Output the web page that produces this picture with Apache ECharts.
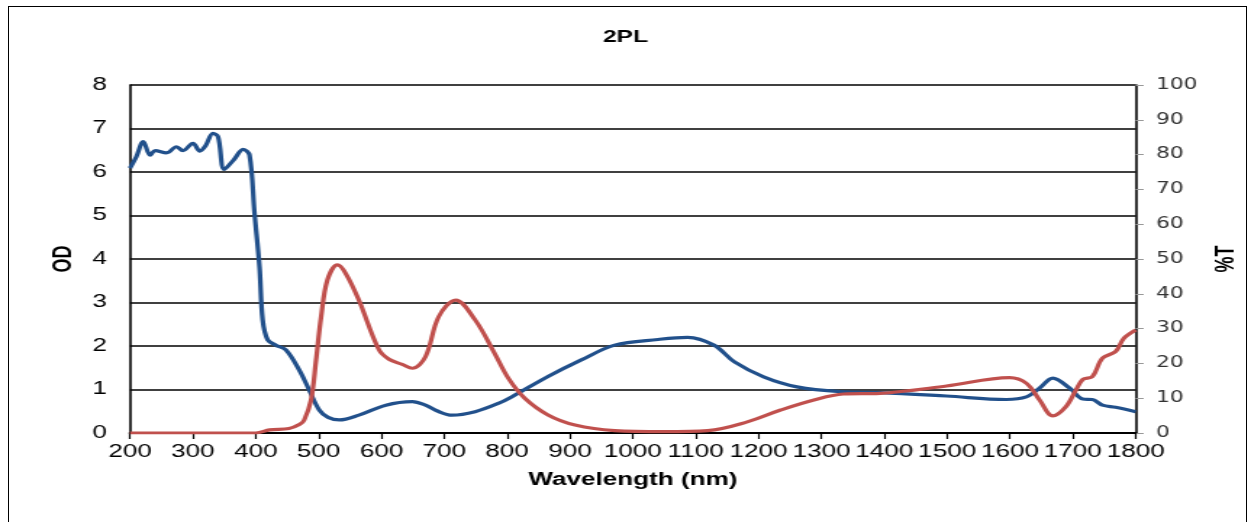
<!DOCTYPE html>
<html>
<head>
<meta charset="utf-8">
<script src="https://cdn.jsdelivr.net/npm/echarts@6/dist/echarts.min.js"></script>
<style>
html,body{margin:0;padding:0;background:#fff;overflow:hidden;}
#frame{position:absolute;left:8px;top:6px;width:1239px;height:540px;border:1.5px solid #000;box-sizing:border-box;}
#chart{position:absolute;left:0;top:0;width:863px;height:522px;transform:scaleX(1.4496);transform-origin:0 0;}
</style>
</head>
<body>
<div id="frame"></div>
<div id="chart"></div>
<script>
const titleText = "2PL";
const xName = "Wavelength (nm)";
const leftName = "OD";
const rightName = "%T";

const odWavelength = [200,210,221,232,240,258,274,284,300,311,320,332,340,350,365,380,390,398,406,411,419,432,448,469,485,501,515,533,564,607,649,670,690,712,749,786,807,865,918,971,1040,1087,1129,1161,1208,1261,1330,1393,1499,1594,1626,1647,1668,1695,1716,1731,1747,1768,1800];
const odValues = [6.09,6.35,6.70,6.39,6.49,6.44,6.58,6.49,6.66,6.48,6.60,6.89,6.81,6.06,6.28,6.52,6.39,5.06,3.82,2.60,2.14,2.02,1.91,1.45,0.99,0.53,0.36,0.30,0.41,0.64,0.72,0.64,0.50,0.41,0.49,0.68,0.83,1.30,1.68,2.02,2.15,2.20,2.02,1.64,1.29,1.06,0.95,0.93,0.85,0.77,0.83,1.03,1.26,1.03,0.78,0.77,0.64,0.59,0.49];

const tWavelength = [200,400,422,453,470,477,488,496,504,514,530,543,564,596,612,633,649,670,691,718,749,780,802,828,865,908,971,1050,1119,1182,1235,1288,1335,1393,1499,1599,1626,1647,1668,1689,1705,1716,1731,1747,1768,1781,1800];
const tValues = [0,0,0.9,1.3,2.5,3.7,9.5,21,33.4,44,48.3,45.9,38.2,23.9,21.2,19.7,18.6,21.9,33.4,38.2,32.5,22.9,15.7,10,5.2,2.3,0.7,0.4,0.7,3.2,6.6,9.5,11.2,11.4,13.5,15.9,14.3,9.5,4.9,7.6,12.4,15.4,16.2,21.5,23.4,27.2,29.6];

const odData = odWavelength.map((w,i)=>[w, odValues[i]]);
const tData = tWavelength.map((w,i)=>[w, tValues[i]]);

const chart = echarts.init(document.getElementById('chart'));
chart.setOption({
  animation: false,
  title: {text: titleText, left: 'center', top: 24, textStyle:{fontFamily:'Liberation Sans', fontSize:17, fontWeight:'bold', color:'#000'}},
  grid: {left:89.7, right:74, top:85, bottom:89},
  xAxis: {
    type:'value', min:200, max:1800, interval:100,
    name:xName, nameLocation:'middle', nameGap:38,
    nameTextStyle:{fontFamily:'Liberation Sans', fontSize:18, fontWeight:'bold', color:'#000'},
    axisLine:{lineStyle:{color:'#000', width:2}},
    axisTick:{show:true, inside:false, length:6, lineStyle:{color:'#000', width:1.2}},
    axisLabel:{fontFamily:'Liberation Sans', fontSize:18, color:'#000', margin:10, formatter:(v)=>String(v)},
    splitLine:{show:false}
  },
  yAxis: [
    {
      type:'value', min:0, max:8, interval:1, position:'left',
      name:leftName, nameLocation:'middle', nameGap:37, nameRotate:90,
      nameTextStyle:{fontFamily:'Liberation Sans', fontSize:18, fontWeight:'bold', color:'#000'},
      axisLine:{show:true, lineStyle:{color:'#000', width:1.6}},
      axisTick:{show:false},
      axisLabel:{fontFamily:'Liberation Sans', fontSize:18, color:'#000', margin:16},
      splitLine:{show:true, lineStyle:{color:'#000', width:1.5}}
    },
    {
      type:'value', min:0, max:100, interval:10, position:'right',
      name:rightName, nameLocation:'middle', nameGap:51, nameRotate:90,
      nameTextStyle:{fontFamily:'Liberation Sans', fontSize:18, fontWeight:'bold', color:'#000'},
      axisLine:{show:true, lineStyle:{color:'#000', width:1.6}},
      axisTick:{show:true, inside:false, length:5.5, lineStyle:{color:'#999', width:1}},
      axisLabel:{fontFamily:'DejaVu Sans', fontSize:15, color:'#333', margin:14},
      splitLine:{show:false}
    }
  ],
  series: [
    {type:'line', name:leftName, yAxisIndex:0, data:odData, smooth:0.35, showSymbol:false,
     lineStyle:{color:'#21508b', width:3.2}, itemStyle:{color:'#21508b'}},
    {type:'line', name:rightName, yAxisIndex:1, data:tData, smooth:0.35, showSymbol:false,
     lineStyle:{color:'#c0504d', width:3.2}, itemStyle:{color:'#c0504d'}}
  ]
});
</script>
</body>
</html>
